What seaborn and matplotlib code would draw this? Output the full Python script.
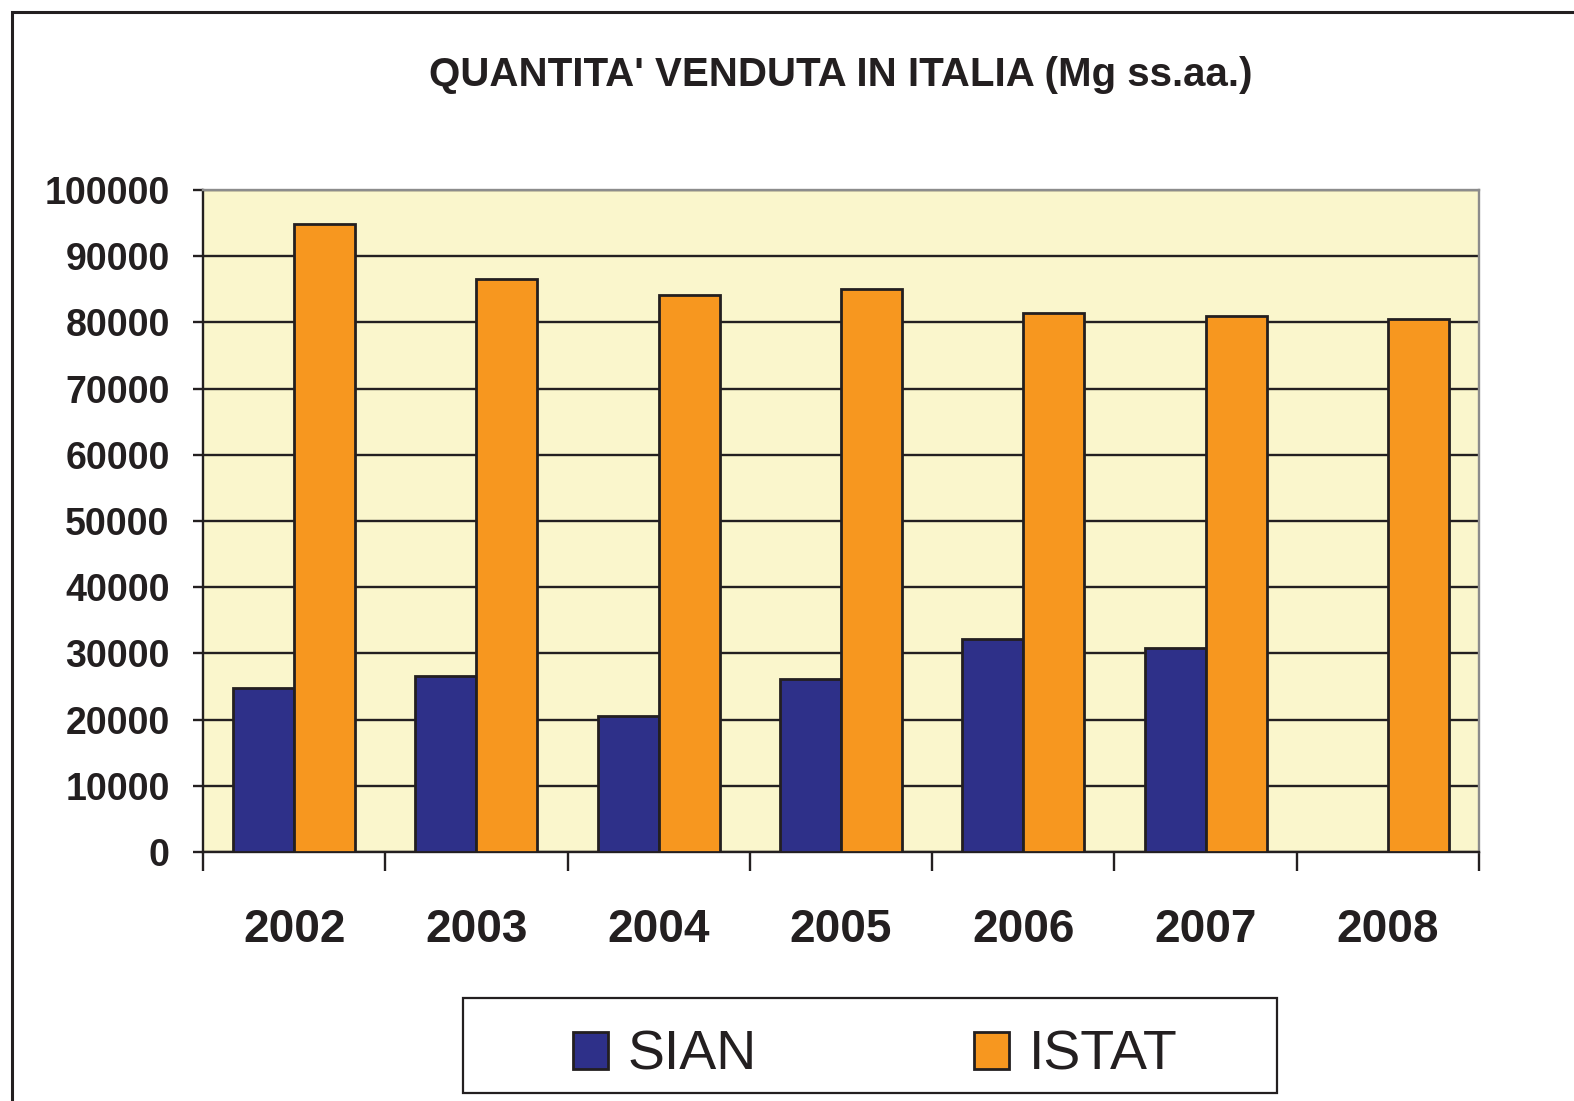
import matplotlib.pyplot as plt
import matplotlib.patches as mpatches
import numpy as np
import pandas as pd
import seaborn as sns

# data (Mg ss.aa.)
years = ['2002', '2003', '2004', '2005', '2006', '2007', '2008']
sian = [24800, 26600, 20600, 26200, 32200, 30800, np.nan]
istat = [94800, 86600, 84200, 85100, 81400, 81000, 80500]
series_names = ['SIAN', 'ISTAT']
bar_colors = ['#2E3089', '#F7971F']
yticks = list(range(0, 100001, 10000))

df = pd.DataFrame({
    'anno': years * 2,
    'serie': ['SIAN'] * len(years) + ['ISTAT'] * len(years),
    'valore': sian + istat,
})

ink = '#231F20'
W, H = 1574, 1101

sns.set_style('white')
plt.rcParams['font.family'] = ['Liberation Sans', 'DejaVu Sans']

fig = plt.figure(figsize=(W / 100, H / 100), dpi=100)
ax = fig.add_axes([203 / W, 1 - 852 / H, (1479 - 203) / W, (852 - 190) / H])
ax.set_facecolor('#FAF6CC')

sns.barplot(data=df, x='anno', y='valore', hue='serie', hue_order=series_names,
            palette=bar_colors, width=0.67, saturation=1, edgecolor=ink,
            linewidth=2, ax=ax, zorder=3)
if ax.get_legend() is not None:
    ax.get_legend().remove()

ax.set_xlim(-0.5, len(years) - 0.5)
ax.set_ylim(0, 100000)
ax.set_yticks(yticks)
ax.set_yticklabels([str(v) for v in yticks], fontsize=27, fontweight='bold', color=ink)
ax.set_xticklabels(years, fontsize=33, fontweight='bold', color=ink)
ax.set_xlabel('')
ax.set_ylabel('')

ax.yaxis.grid(True, color=ink, linewidth=1.7)
ax.xaxis.grid(False)
ax.set_axisbelow(True)

ax.tick_params(axis='y', length=7, width=1.7, color=ink, pad=17, left=True)
ax.tick_params(axis='x', which='major', length=0, pad=40)
ax.set_xticks(np.arange(-0.5, len(years), 1.0), minor=True)
ax.tick_params(axis='x', which='minor', length=14, width=1.7, color=ink, bottom=True)

for side in ['left', 'bottom']:
    ax.spines[side].set_color(ink)
    ax.spines[side].set_linewidth(1.7)
for side in ['top', 'right']:
    ax.spines[side].set_color('#8C8C8C')
    ax.spines[side].set_linewidth(1.7)
    ax.spines[side].set_visible(True)

fig.text(0.534, 1 - 75 / H, "QUANTITA' VENDUTA IN ITALIA (Mg ss.aa.)",
         ha='center', va='center', fontsize=29, fontweight='bold', color=ink)

# legend in a plain box under the chart
handles = [mpatches.Patch(facecolor=c, edgecolor=ink, linewidth=2) for c in bar_colors]
fig.legend(handles, series_names, loc='center',
           bbox_to_anchor=(875 / W, 1 - 1056 / H),
           ncol=2, frameon=False,
           prop={'family': ['Liberation Sans', 'DejaVu Sans'], 'size': 40},
           handlelength=0.63, handleheight=0.65, handletextpad=0.36,
           columnspacing=3.9, labelcolor=ink)
fig.add_artist(mpatches.Rectangle((463 / W, 1 - 1093 / H), (1277 - 463) / W, 95 / H,
                                  transform=fig.transFigure, fill=False,
                                  edgecolor=ink, linewidth=1.6))

# outer frame, open at right and bottom like the scan
fig.add_artist(mpatches.Rectangle((12 / W, -0.5), 2, 1.5 - 12 / H,
                                  transform=fig.transFigure, fill=False,
                                  edgecolor=ink, linewidth=2.2))

fig.savefig('out.png', dpi=100)
